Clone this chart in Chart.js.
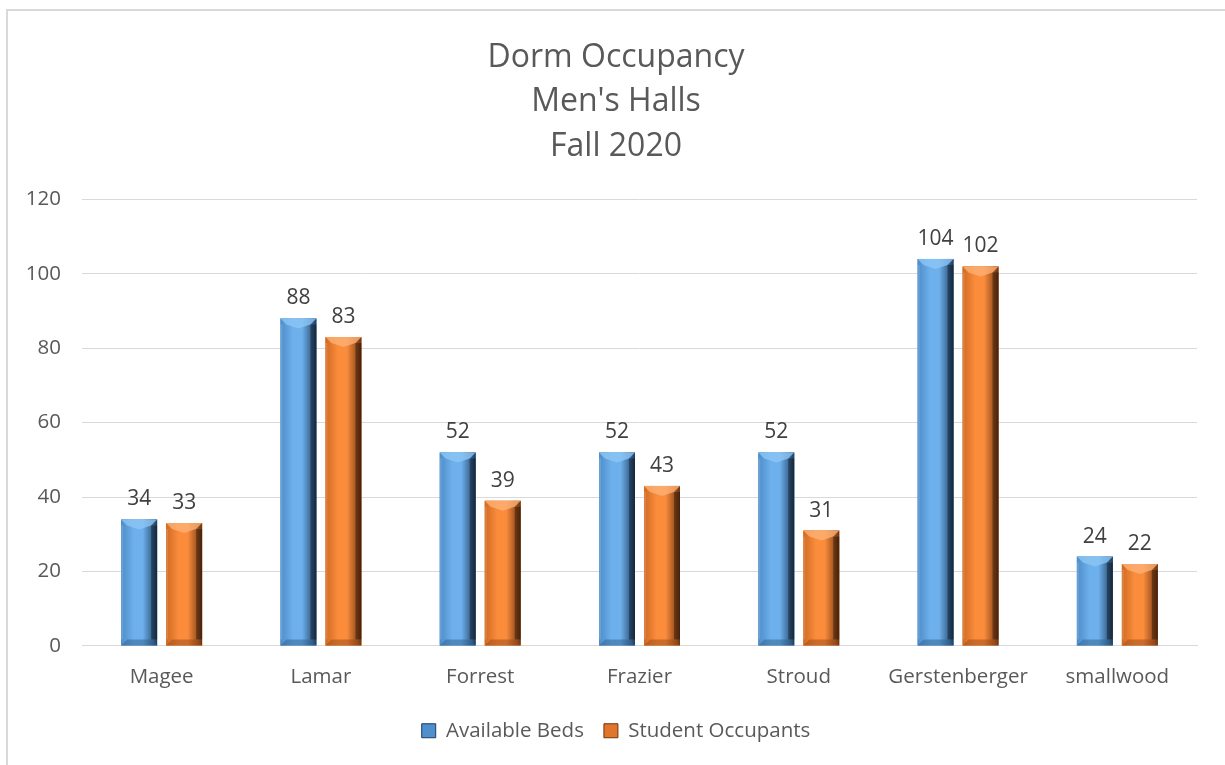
<!DOCTYPE html>
<html>
<head>
<meta charset="utf-8">
<script src="https://cdn.jsdelivr.net/npm/chart.js@4.4.1/dist/chart.umd.min.js"></script>
<style>
  body { margin: 0; background: #fff; }
  #frame { position: absolute; left: 6px; top: 9px; right: 0; bottom: 0;
           border-left: 2px solid #d9d9d9; border-top: 2px solid #d9d9d9; }
  #wrap { position: absolute; left: 0; top: 0; width: 1225px; height: 765px; }
</style>
</head>
<body>
<div id="frame"></div>
<div id="wrap"><canvas id="myChart" width="1225" height="765"></canvas></div>
<script>
const halls = ['Magee', 'Lamar', 'Forrest', 'Frazier', 'Stroud', 'Gerstenberger', 'smallwood'];
const availableBeds = [34, 88, 52, 52, 52, 104, 24];
const studentOccupants = [33, 83, 39, 43, 31, 102, 22];
const yTicks = [0, 20, 40, 60, 80, 100, 120];

// colours for the bevelled bars: [edge light, centre, dark edge, top, bottom]
const shades = {
    blue: ['#4d8cc8', '#6db0ec', '#1e3d5e', '#8cc6f5', '#2f5f8e'],
    orange: ['#d06a22', '#fa8c3c', '#6e3410', '#fdb074', '#9a4a17']
};

function bevelFill(ctx, x0, x1, s) {
    let g = ctx.createLinearGradient(x0, 0, x1, 0);
    g.addColorStop(0, s[0]);
    g.addColorStop(0.35, s[1]);
    g.addColorStop(0.6, s[1]);
    g.addColorStop(1, s[2]);
    return g;
}

const valueLabels = {
    id: 'valueLabels',
    afterDatasetsDraw(chart) {
        let ctx = chart.ctx;
        ctx.save();
        ctx.font = '21px "Open Sans"';
        ctx.fillStyle = '#404040';
        ctx.textAlign = 'center';
        ctx.textBaseline = 'middle';
        chart.data.datasets.forEach((ds, i) => {
            chart.getDatasetMeta(i).data.forEach((bar, j) => {
                ctx.fillText(ds.data[j], bar.x, bar.y - 20);
            });
        });
        ctx.restore();
    }
};

const bevel = {
    id: 'bevel',
    afterDatasetsDraw(chart) {
        let ctx = chart.ctx;
        chart.data.datasets.forEach((ds, i) => {
            let s = shades[ds.shade];
            chart.getDatasetMeta(i).data.forEach(bar => {
                let p = bar.getProps(['x', 'y', 'base', 'width'], true);
                let x0 = p.x - p.width / 2, x1 = p.x + p.width / 2;
                let yt = p.y, yb = p.base, b = 6;
                ctx.save();
                ctx.fillStyle = bevelFill(ctx, x0, x1, s);
                ctx.fillRect(x0, yt, x1 - x0, yb - yt);
                // top chevron
                ctx.fillStyle = s[3];
                ctx.globalAlpha = 0.8;
                ctx.beginPath();
                ctx.moveTo(x0, yt);
                ctx.lineTo(x1, yt);
                ctx.lineTo(x1 - b, yt + b);
                ctx.lineTo(p.x, yt + b + 4);
                ctx.lineTo(x0 + b, yt + b);
                ctx.closePath();
                ctx.fill();
                // bottom bevel
                ctx.fillStyle = s[4];
                ctx.globalAlpha = 0.5;
                ctx.beginPath();
                ctx.moveTo(x0, yb);
                ctx.lineTo(x1, yb);
                ctx.lineTo(x1 - b, yb - b);
                ctx.lineTo(x0 + b, yb - b);
                ctx.closePath();
                ctx.fill();
                // side strips
                ctx.globalAlpha = 0.35;
                ctx.fillStyle = '#000';
                ctx.fillRect(x1 - b, yt + b, b, yb - yt - 2 * b);
                ctx.globalAlpha = 0.15;
                ctx.fillStyle = '#fff';
                ctx.fillRect(x0, yt + b, 2, yb - yt - 2 * b);
                ctx.restore();
            });
        });
    }
};

let ctx = document.getElementById('myChart');

new Chart(ctx, {
    type: 'bar',
    data: {
        labels: halls,
        datasets: [{
            label: 'Available Beds',
            data: availableBeds,
            shade: 'blue',
            backgroundColor: '#4f8fcc',
            borderWidth: 0
        }, {
            label: 'Student Occupants',
            data: studentOccupants,
            shade: 'orange',
            backgroundColor: '#e0752c',
            borderWidth: 0
        }]
    },
    plugins: [bevel, valueLabels],
    options: {
        responsive: false,
        animation: false,
        categoryPercentage: 0.565,
        barPercentage: 0.8,
        layout: {
            padding: { left: 22, right: 15, top: 18, bottom: 14 }
        },
        plugins: {
            title: {
                display: true,
                text: ['Dorm Occupancy', "Men's Halls", 'Fall 2020'],
                color: '#595959',
                font: { family: 'Open Sans', size: 32, weight: 'normal', lineHeight: 1.4 },
                padding: { top: 17, bottom: 30 }
            },
            legend: {
                position: 'bottom',
                labels: {
                    color: '#595959',
                    font: { family: 'Open Sans', size: 20.5 },
                    boxWidth: 14,
                    boxHeight: 14,
                    padding: 20,
                    generateLabels(chart) {
                        let items = Chart.defaults.plugins.legend.labels.generateLabels(chart);
                        items.forEach((it, i) => {
                            let s = shades[chart.data.datasets[i].shade];
                            it.strokeStyle = s[2];
                            it.lineWidth = 1;
                        });
                        return items;
                    }
                }
            },
            tooltip: { enabled: false }
        },
        scales: {
            x: {
                grid: { display: false },
                border: { color: '#d9d9d9' },
                ticks: {
                    color: '#595959',
                    font: { family: 'Open Sans', size: 20.5 },
                    padding: 11
                }
            },
            y: {
                min: 0,
                max: 120,
                afterBuildTicks: axis => { axis.ticks = yTicks.map(v => ({ value: v })); },
                afterFit: axis => { axis.width = 60; },
                grid: { color: '#d9d9d9', drawTicks: false },
                border: { display: false },
                ticks: {
                    color: '#595959',
                    font: { family: 'Open Sans', size: 20.5 },
                    padding: 21
                }
            },
            // empty right-hand spacer so the title stays centred on the frame
            y2: {
                position: 'right',
                grid: { display: false },
                border: { display: false },
                ticks: { display: false },
                afterFit: axis => { axis.width = 13; }
            }
        }
    }
});
</script>
</body>
</html>
